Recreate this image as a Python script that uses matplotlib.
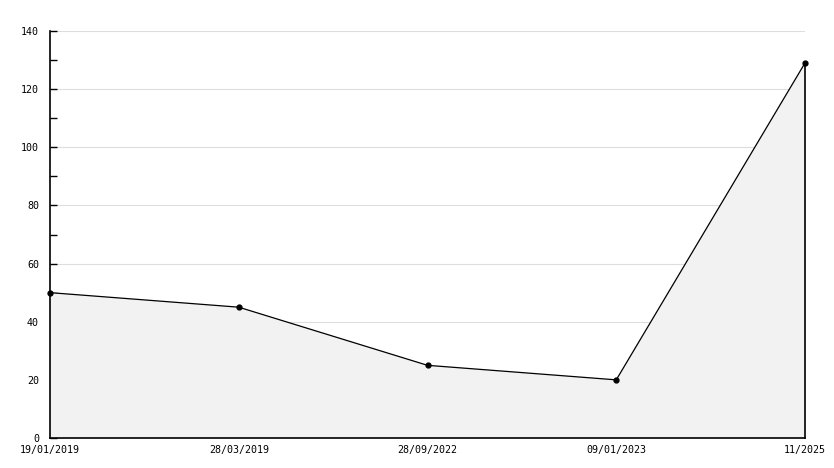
import numpy as np
import matplotlib.pyplot as plt
from matplotlib.ticker import MultipleLocator

dates = ['19/01/2019', '28/03/2019', '28/09/2022', '09/01/2023', '11/2025']
values = [50, 45, 25, 20, 129]

plt.rcParams['font.family'] = 'DejaVu Sans Mono'
plt.rcParams['font.size'] = 7.2

fig = plt.figure(figsize=(8.34, 4.68), dpi=100)
ax = fig.add_axes([50 / 834, 30 / 468, 755 / 834, 407 / 468])

x = np.arange(len(dates))
ax.fill_between(x, values, 0, facecolor='#f2f2f2', edgecolor='none')
ax.plot(x, values, color='black', linewidth=0.9, marker='o', markersize=3.5, clip_on=False, zorder=4)
ax.plot([x[-1], x[-1]], [0, values[-1]], color='black', linewidth=1.2, clip_on=False, zorder=4)

ax.set_xlim(x[0], x[-1])
ax.set_ylim(0, 140)
ax.set_xticks(x)
ax.set_xticklabels(dates)
ax.yaxis.set_major_locator(MultipleLocator(20))
ax.yaxis.set_minor_locator(MultipleLocator(10))
ax.grid(axis='y', color='#dddddd', linewidth=0.8)
ax.set_axisbelow(True)

for s in ['top', 'right']:
    ax.spines[s].set_visible(False)
ax.spines['left'].set_linewidth(1.2)
ax.spines['bottom'].set_linewidth(1.2)
ax.tick_params(axis='y', which='both', direction='in', length=5, width=1, pad=8)
ax.tick_params(axis='x', direction='in', length=0, pad=5)

plt.savefig('out.png', dpi=100)
